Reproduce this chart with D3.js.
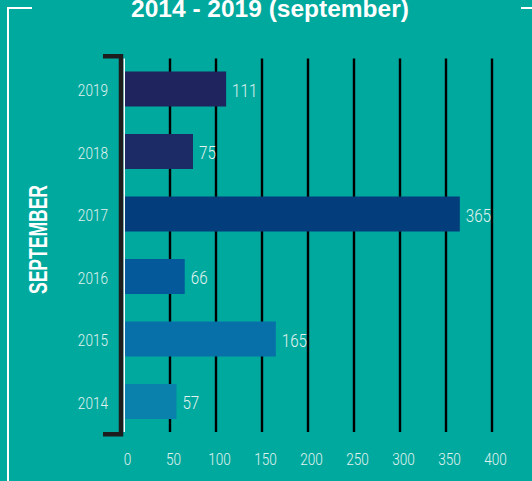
<!DOCTYPE html>
<html>
<head>
<meta charset="utf-8">
<script src="https://cdn.jsdelivr.net/npm/d3@7"></script>
<style>
  html, body { margin: 0; padding: 0; background: #00a99d; }
  svg { display: block; }
  text { font-family: "Liberation Sans", Arial, sans-serif; }
  .light { font-family: Roboto, "Liberation Sans", sans-serif; font-weight: 300; }
</style>
</head>
<body>
<div id="chart"></div>
<script>
"use strict";

var years = ["2019", "2018", "2017", "2016", "2015", "2014"];
var counts = [111, 75, 365, 66, 165, 57];
var bar_colors = ["#1f235e", "#1c2a66", "#033d7b", "#04599a", "#0870a8", "#0a80ac"];
var x_ticks = [0, 50, 100, 150, 200, 250, 300, 350, 400];
var title_text = "2014 - 2019 (september)";
var side_label = "SEPTEMBER";

var width = 532, height = 481;
var label_color = "#e2f3f1";

var svg = d3.select("#chart")
    .append("svg")
    .attr("width", width)
    .attr("height", height);

svg.append("rect")
    .attr("width", width)
    .attr("height", height)
    .attr("fill", "#00a99d");

var x = d3.scaleLinear().domain([0, 400]).range([124, 492]);
var y = d3.scaleBand().domain(years).range([57.75, 432.75])
    .paddingInner(0.44).paddingOuter(0.22);

var rows = years.map(function(yr, i) {
    return { "year": yr, "count": counts[i], "color": bar_colors[i] };
});

// white frame corners
svg.append("path")
    .attr("d", "M32,8H8V481")
    .attr("fill", "none").attr("stroke", "#fff").attr("stroke-width", 2);
svg.append("path")
    .attr("d", "M521,8H532")
    .attr("fill", "none").attr("stroke", "#fff").attr("stroke-width", 2);

// title (top edge is clipped in the original too)
svg.append("text")
    .attr("x", 270).attr("y", 16.5)
    .attr("text-anchor", "middle")
    .attr("fill", "#fff")
    .attr("font-weight", "bold")
    .attr("font-size", 24.5)
    .text(title_text);

// side label
svg.append("text")
    .attr("transform", "translate(47,239.5) rotate(-90)")
    .attr("text-anchor", "middle")
    .attr("fill", "#fff")
    .attr("font-weight", "bold")
    .attr("font-size", 26)
    .attr("textLength", 109)
    .attr("lengthAdjust", "spacingAndGlyphs")
    .text(side_label);

// vertical grid lines (behind the bars)
var y_top = 58.5, y_bottom = 432;
svg.append("g")
    .selectAll("line")
    .data(x_ticks.slice(1))
    .enter()
    .append("line")
    .attr("x1", function(d) { return x(d); })
    .attr("x2", function(d) { return x(d); })
    .attr("y1", y_top)
    .attr("y2", y_bottom)
    .attr("stroke", "#000")
    .attr("stroke-width", 2.4);

// bars
svg.append("g")
    .selectAll("rect")
    .data(rows)
    .enter()
    .append("rect")
    .attr("x", x(0))
    .attr("y", function(d) { return y(d.year); })
    .attr("width", function(d) { return x(d.count) - x(0); })
    .attr("height", y.bandwidth())
    .attr("fill", function(d) { return d.color; });

// zero line and dark bracket
svg.append("line")
    .attr("x1", 124.2).attr("x2", 124.2)
    .attr("y1", y_top).attr("y2", y_bottom)
    .attr("stroke", "#fff").attr("stroke-width", 1.6);
svg.append("path")
    .attr("d", "M103,56.3H121V434.3H103")
    .attr("fill", "none")
    .attr("stroke", "#1d1d1d")
    .attr("stroke-width", 4.5);

// value labels
svg.append("g")
    .selectAll("text")
    .data(rows)
    .enter()
    .append("text")
    .attr("class", "light")
    .attr("transform", function(d) {
        return "translate(" + (x(d.count) + 6) + "," + (y(d.year) + y.bandwidth() / 2 + 7.5) + ") scale(0.82,1)";
    })
    .attr("fill", label_color)
    .attr("font-size", 18.5)
    .text(function(d) { return d.count; });

// x axis labels
var x_axis = svg.append("g")
    .attr("transform", "translate(0,453)")
    .call(d3.axisBottom(x).tickValues(x_ticks).tickSize(0).tickPadding(0));
x_axis.select(".domain").remove();
x_axis.selectAll("text")
    .attr("class", "light")
    .attr("fill", label_color)
    .attr("font-size", 17)
    .attr("font-family", null)
    .attr("dy", "0.71em")
    .attr("y", 0)
    .attr("x", 3 / 0.8)
    .attr("transform", "scale(0.8,1)");

// year labels
var y_axis = svg.append("g")
    .attr("transform", "translate(124,0)")
    .call(d3.axisLeft(y).tickSize(0).tickPadding(0));
y_axis.select(".domain").remove();
y_axis.selectAll("text")
    .attr("class", "light")
    .attr("fill", label_color)
    .attr("font-size", 17)
    .attr("font-family", null)
    .attr("x", -16 / 0.8)
    .attr("dy", "0.42em")
    .attr("transform", "scale(0.8,1)");
</script>
</body>
</html>
